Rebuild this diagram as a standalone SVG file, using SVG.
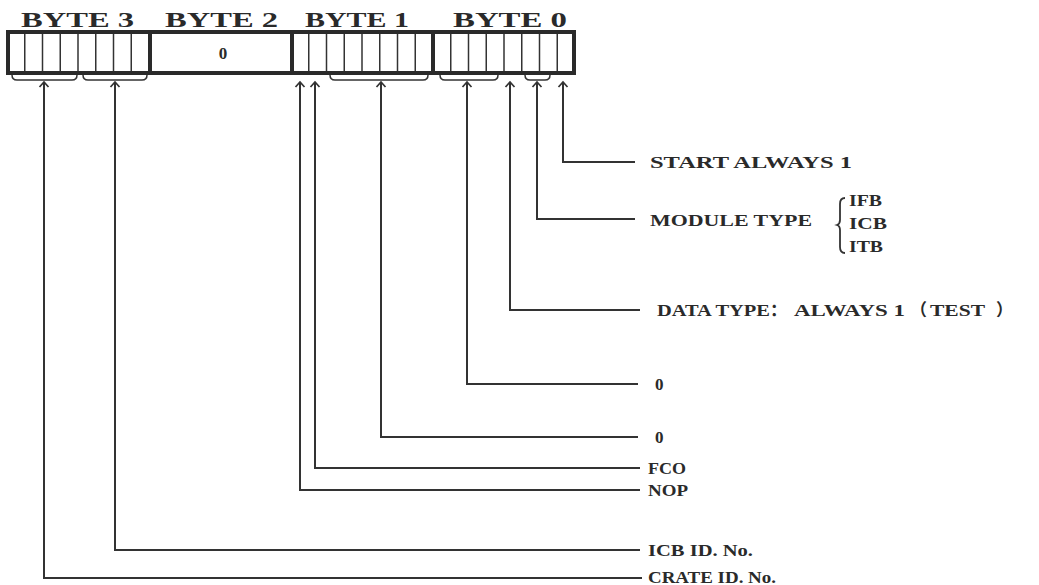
<svg xmlns="http://www.w3.org/2000/svg" width="1039" height="585" viewBox="0 0 1039 585">
<style>
.t{font-family:"Liberation Serif","Times New Roman","Noto Sans CJK SC",serif;font-weight:bold;fill:#2a2a2a}
.hdr{font-size:21px}
.lbl{font-size:17px}
.thick{stroke:#2a2a2a;stroke-width:4;fill:none}
.cell{stroke:#333;stroke-width:1.5;fill:none}
.br{stroke:#333;stroke-width:1.5;fill:none}
.conn{stroke:#333;stroke-width:2;fill:none;marker-start:url(#arr)}
</style>
<defs>
<marker id="arr" viewBox="-7 -6 9 12" markerWidth="9" markerHeight="12" refX="0" refY="0" orient="auto-start-reverse" markerUnits="userSpaceOnUse">
<path d="M-5,-4.5 L0,0 L-5,4.5" fill="none" stroke="#333" stroke-width="1.7"/>
</marker>
</defs>
<rect width="1039" height="585" fill="#fff"/>
<g id="header">
<text class="t hdr" x="21" y="27" textLength="113" lengthAdjust="spacingAndGlyphs">BYTE 3</text>
<text class="t hdr" x="165" y="27" textLength="113" lengthAdjust="spacingAndGlyphs">BYTE 2</text>
<text class="t hdr" x="305" y="27" textLength="104" lengthAdjust="spacingAndGlyphs">BYTE 1</text>
<text class="t hdr" x="453" y="27" textLength="114" lengthAdjust="spacingAndGlyphs">BYTE 0</text>
</g>
<g id="register">
<g class="cell">
<line x1="24.75" y1="32" x2="24.75" y2="73"/><line x1="42.5" y1="32" x2="42.5" y2="73"/><line x1="60.25" y1="32" x2="60.25" y2="73"/><line x1="78" y1="32" x2="78" y2="73"/><line x1="95.75" y1="32" x2="95.75" y2="73"/><line x1="113.5" y1="32" x2="113.5" y2="73"/><line x1="131.25" y1="32" x2="131.25" y2="73"/>
<line x1="308.75" y1="32" x2="308.75" y2="73"/><line x1="326.5" y1="32" x2="326.5" y2="73"/><line x1="344.25" y1="32" x2="344.25" y2="73"/><line x1="362" y1="32" x2="362" y2="73"/><line x1="379.75" y1="32" x2="379.75" y2="73"/><line x1="397.5" y1="32" x2="397.5" y2="73"/><line x1="415.25" y1="32" x2="415.25" y2="73"/>
<line x1="450.75" y1="32" x2="450.75" y2="73"/><line x1="468.5" y1="32" x2="468.5" y2="73"/><line x1="486.25" y1="32" x2="486.25" y2="73"/><line x1="504" y1="32" x2="504" y2="73"/><line x1="521.75" y1="32" x2="521.75" y2="73"/><line x1="539.5" y1="32" x2="539.5" y2="73"/><line x1="557.25" y1="32" x2="557.25" y2="73"/>
</g>
<rect class="thick" x="8" y="32" width="566" height="41"/>
<line class="thick" x1="150" y1="32" x2="150" y2="73"/>
<line class="thick" x1="292" y1="32" x2="292" y2="73"/>
<line class="thick" x1="433" y1="32" x2="433" y2="73"/>
<text class="t" x="223" y="58.5" font-size="17" text-anchor="middle">0</text>
</g>
<g id="brackets" class="br">
<path d="M12,75 Q12,80 17,80 L72,80 Q77,80 77,75"/>
<path d="M83,75 Q83,80 88,80 L142,80 Q147,80 147,75"/>
<path d="M330,75 Q330,80 335,80 L423,80 Q428,80 428,75"/>
<path d="M440,75 Q440,80 445,80 L493,80 Q498,80 498,75"/>
<path d="M525,75 Q525,80 530,80 L545,80 Q550,80 550,75"/>
</g>
<g id="connectors">
<path class="conn" d="M563,82 V162 H635"/>
<path class="conn" d="M537,82 V219 H635"/>
<path class="conn" d="M510,82 V310 H640"/>
<path class="conn" d="M467,82 V384 H638"/>
<path class="conn" d="M381,82 V437 H638"/>
<path class="conn" d="M315,82 V468 H640"/>
<path class="conn" d="M300,82 V490 H640"/>
<path class="conn" d="M115,82 V550 H640"/>
<path class="conn" d="M44,82 V578 H642"/>
<path d="M845,198 Q840,198 840,204 V220 Q840,224 837,225 Q840,226 840,230 V247 Q840,253 845,253" stroke="#333" stroke-width="1.8" fill="none"/>
</g>
<g id="start"><text class="t lbl" x="650" y="168" textLength="202" lengthAdjust="spacingAndGlyphs">START ALWAYS 1</text></g>
<g id="module"><text class="t lbl" x="650" y="226" textLength="162" lengthAdjust="spacingAndGlyphs">MODULE TYPE</text>
<text class="t lbl" x="849" y="206" textLength="33" lengthAdjust="spacingAndGlyphs">IFB</text>
<text class="t lbl" x="849" y="229" textLength="38" lengthAdjust="spacingAndGlyphs">ICB</text>
<text class="t lbl" x="849" y="252" textLength="34" lengthAdjust="spacingAndGlyphs">ITB</text></g>
<g id="datatype"><text class="t lbl" y="316"><tspan x="657" textLength="113" lengthAdjust="spacingAndGlyphs">DATA TYPE</tspan><tspan x="770">：</tspan><tspan x="794" textLength="111" lengthAdjust="spacingAndGlyphs">ALWAYS 1</tspan><tspan x="910">（</tspan><tspan x="930" textLength="55" lengthAdjust="spacingAndGlyphs">TEST</tspan><tspan x="996">）</tspan></text></g>
<g id="zero1"><text class="t lbl" x="655" y="390">0</text></g>
<g id="zero2"><text class="t lbl" x="655" y="443">0</text></g>
<g id="fco"><text class="t lbl" x="648" y="474" textLength="38" lengthAdjust="spacingAndGlyphs">FCO</text></g>
<g id="nop"><text class="t lbl" x="648" y="496" textLength="40" lengthAdjust="spacingAndGlyphs">NOP</text></g>
<g id="icb"><text class="t lbl" x="648" y="556" textLength="105" lengthAdjust="spacingAndGlyphs">ICB ID. No.</text></g>
<g id="crate"><text class="t lbl" x="648" y="583" textLength="128" lengthAdjust="spacingAndGlyphs">CRATE ID. No.</text></g>
</svg>
